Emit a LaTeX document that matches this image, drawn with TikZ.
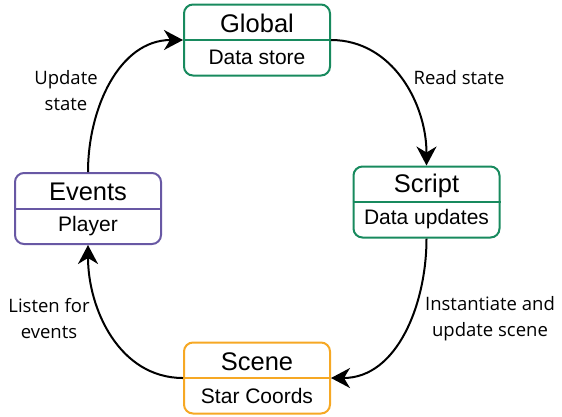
\documentclass[tikz,border=0pt]{standalone}
\usepackage{fontspec}
\setmainfont{Liberation Sans}
\newfontfamily\labelfont{Open Sans}
\usetikzlibrary{arrows.meta,calc}
\definecolor{boxgreen}{RGB}{24,138,94}
\definecolor{boxpurple}{RGB}{104,88,164}
\definecolor{boxorange}{RGB}{246,168,36}
% cards: outline, divider, title and subtitle
\newcommand{\cardbox}[6]{%
  \node[card=#4] (#1) at (#2,#3) {};
  \draw[#4,line width=2pt] (#1.west) -- (#1.east);
  \node[cardtitle] (#1-t) at ($(#1.center)+(0,16.5)$) {#5};
  \node[cardsub] (#1-s) at ($(#1.center)+(0,-17.5)$) {#6};
}
\begin{document}
\begin{tikzpicture}[x=1pt,y=1pt,
  card/.style={draw=#1,line width=2pt,rounded corners=9pt,minimum width=146pt,minimum height=71pt,inner sep=0pt},
  cardtitle/.style={font=\fontsize{25.5}{28}\selectfont,inner sep=0pt},
  cardsub/.style={font=\fontsize{21}{23}\selectfont,inner sep=0pt},
  flow/.style={line width=2pt,-{Stealth[length=19pt,width=20pt,inset=6pt]}},
  note/.style={font=\labelfont\fontsize{18.5}{26}\selectfont,align=center,inner sep=0pt}]
\useasboundingbox (0,0) rectangle (562,-416);

\cardbox{global}{257}{-40}{boxgreen}{Global}{Data store}
\cardbox{script}{426.5}{-202}{boxgreen}{Script}{Data updates}
\cardbox{events}{88}{-208.5}{boxpurple}{Events}{Player}
\cardbox{scene}{257}{-378}{boxorange}{Scene}{Star Coords}

% the update cycle
\draw[flow] (global.east) to[out=0,in=90] (script.north);
\draw[flow] (script.south) to[out=-90,in=0] (scene.east);
\draw[flow] (scene.west) to[out=180,in=-90] (events.south);
\draw[flow] (events.north) to[out=90,in=180] (global.west);

% connector labels
\node[note] (l-read) at (459,-78) {Read state};
\node[note] (l-inst) at (490,-319) {Instantiate and\\update scene};
\node[note] (l-listen) at (49,-319) {Listen for\\events};
\node[note] (l-update) at (66,-91) {Update\\state};
\end{tikzpicture}
\end{document}
